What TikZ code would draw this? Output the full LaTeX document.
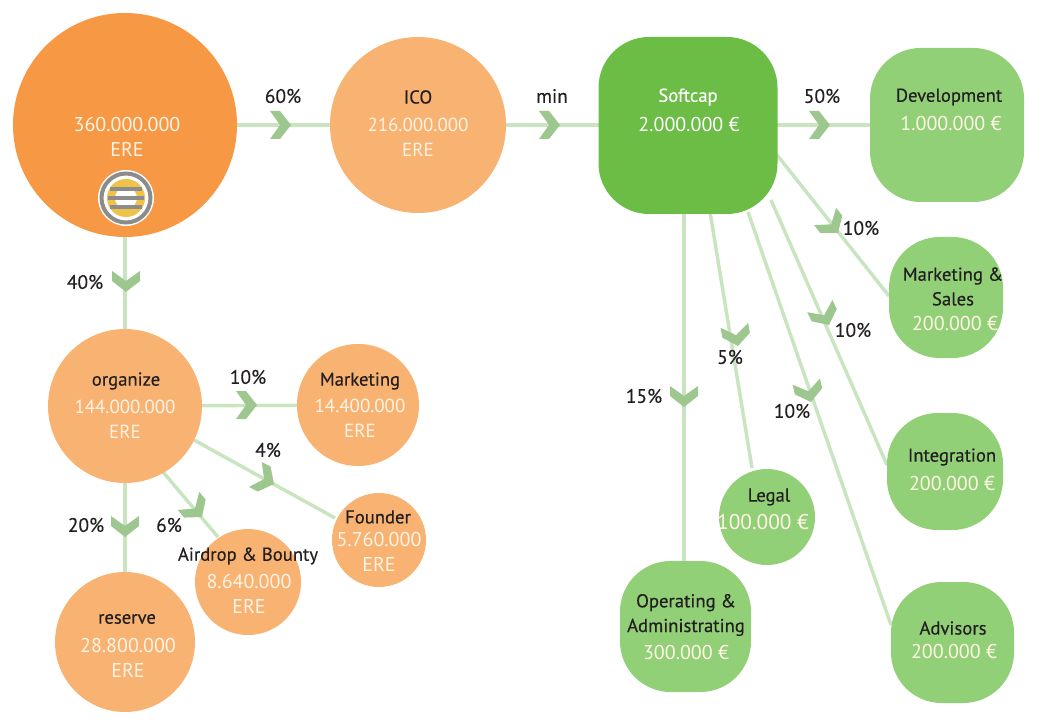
\documentclass[tikz,border=0pt]{standalone}
\usepackage{fontspec}
\setmainfont{PT Sans}
\newfontfamily\heavyf[FakeBold=0.35]{PT Sans}
\definecolor{mainor}{HTML}{F79845}
\definecolor{lightor}{HTML}{F8B271}
\definecolor{softg}{HTML}{6BBD45}
\definecolor{lightg}{HTML}{92D077}
\definecolor{linkg}{HTML}{C8E5C0}
\definecolor{chevg}{HTML}{9DC78F}
\definecolor{ink}{HTML}{231F20}
\definecolor{pale}{HTML}{FFF4E6}
\definecolor{logog}{HTML}{8C8C8C}
\definecolor{logoy}{HTML}{EFC24A}
\newcommand{\chev}[2]{\fill[chevg,shift={(#1)},rotate=-#2] (-21,-14) -- (-11,-14) -- (0,0) -- (-11,14) -- (-21,14) -- (-11,0) -- cycle;}
\tikzset{
  x=0.75pt,y=-0.75pt,
  every node/.style={font=\fontsize{15}{18.5}\selectfont,align=center,text=ink,inner sep=0pt},
  link/.style={draw=linkg,line width=2.6pt},
  disc/.style={circle,draw=none,minimum size=#1*0.75pt},
  orfill/.style={fill=lightor},
  pill/.style n args={2}{rectangle,rounded corners=38pt,fill=lightg,minimum width=#1*0.75pt,minimum height=#2*0.75pt},
  nm/.style={font=\heavyf\fontsize{14}{18.5}\selectfont,yshift=-0.75pt},
  pct/.style={font=\heavyf\fontsize{14.6}{18}\selectfont},
  num/.style={text=pale},
  numtight/.style={text=pale,font=\fontsize{14.2}{18.5}\selectfont},
  numwide/.style={text=pale,font=\fontsize{16}{18.5}\selectfont}
}
\begin{document}
\begin{tikzpicture}
\useasboundingbox (0,0) rectangle (1041,727);
\coordinate (mainC) at (125,125);
\coordinate (icoC) at (418,125);
\coordinate (softC) at (688,125);
\coordinate (devC) at (947,125);
\coordinate (orgC) at (125,406);
\coordinate (mktC) at (358,405);
\coordinate (fouC) at (379,540);
\coordinate (airC) at (248,582);
\coordinate (resC) at (125,642);
\coordinate (a1) at (777,155);
\coordinate (a2) at (889,296);
\coordinate (b1) at (771,200);
\coordinate (b2) at (887,465);
\coordinate (c1) at (748,212);
\coordinate (c2) at (891,625);
\coordinate (d1) at (710,212);
\coordinate (d2) at (752,468);
\coordinate (e1) at (684,214);
\coordinate (e2) at (684,561);
\coordinate (f1) at (194,440);
\coordinate (f2) at (335,518);
\coordinate (g1) at (163,472);
\coordinate (g2) at (218,537);
% connectors
\draw[link] (mainC) -- (icoC);
\draw[link] (icoC) -- (softC);
\draw[link] (softC) -- (devC);
\draw[link] (mainC) -- (orgC);
\draw[link] (orgC) -- (mktC);
\draw[link] (orgC) -- (resC);
\draw[link] (a1) -- (a2);
\draw[link] (b1) -- (b2);
\draw[link] (c1) -- (c2);
\draw[link] (d1) -- (d2);
\draw[link] (e1) -- (e2);
\draw[link] (f1) -- (f2);
\draw[link] (g1) -- (g2);
% chevrons
\chev{291,125}{0}
\chev{560,125}{0}
\chev{830,125}{0}
\chev{126,292}{90}
\chev{838,233}{52}
\chev{829,325}{64}
\chev{811,402}{77}
\chev{738,346}{80}
\chev{684,407}{90}
\chev{257,405}{0}
\chev{274,484}{27}
\chev{202,517}{50}
\chev{125,537}{90}
% shapes
\node[disc=224,fill=mainor] (main) at (mainC) {};
\node[disc=176,orfill] (ico) at (icoC) {};
\node[pill={179}{177},fill=softg] (soft) at (688,125.5) {};
\node[pill={154}{154}] (dev) at (devC) {};
\node[pill={114}{121}] (ms) at (946,297.5) {};
\node[pill={116}{117}] (int) at (945,471.5) {};
\node[pill={123}{121}] (adv) at (952.5,642.5) {};
\node[pill={131}{131}] (ops) at (685.5,626.5) {};
\node[disc=96,fill=lightg] (leg) at (767,517) {};
\node[disc=154,orfill] (org) at (orgC) {};
\node[disc=122,orfill] (mkt) at (mktC) {};
\node[disc=94,orfill] (fou) at (fouC) {};
\node[disc=106,orfill] (air) at (airC) {};
\node[disc=140,orfill] (res) at (resC) {};
% logo
\fill[white] (126,198) circle[radius=28];
\draw[logog,line width=3pt] (126,198) circle[radius=24.5];
\draw[logoy,line width=6pt] (126,198) circle[radius=15];
\fill[logog] (110,187) rectangle (142,191);
\fill[logog] (108,196) rectangle (144,200);
\fill[logog] (110,205) rectangle (142,209);
% node texts
\node[num] (t1) at (127,137) {360.000.000\\ERE};
\node[nm] (t2a) at (418,96) {ICO};
\node[numtight] (t2) at (418,137) {216.000.000\\ERE};
\node[nm,text=white] (t3a) at (688,96) {Softcap};
\node[text=white] (t3) at (689,125) {2.000.000 €};
\node[nm] (t4a) at (949,96) {Development};
\node[num] (t4) at (951,124) {1.000.000 €};
\node[nm] (t5a) at (953,285.5) {Marketing \&\\Sales};
\node[num] (t5) at (955,323) {200.000 €};
\node[nm] (t6a) at (952,456) {Integration};
\node[num] (t6) at (952,483) {200.000 €};
\node[nm] (t7a) at (953,627) {Advisors};
\node[num] (t7) at (954,651) {200.000 €};
\node[nm] (t8a) at (769,496) {Legal};
\node[numwide] (t8) at (763,522) {100.000 €};
\node[nm] (t9a) at (686,614) {Operating \&\\Administrating};
\node[num] (t9) at (686,652) {300.000 €};
\node[nm] (t10a) at (126,380) {organize};
\node[numtight] (t10) at (125,419) {144.000.000\\ERE};
\node[nm] (t11a) at (360,380) {Marketing};
\node[numtight] (t11) at (360,418) {14.400.000\\ERE};
\node[nm] (t12a) at (378,516) {Founder};
\node[num] (t12) at (379,552) {5.760.000\\ERE};
\node[nm] (t13a) at (248,555) {Airdrop \& Bounty};
\node[num] (t13) at (249,594) {8.640.000\\ERE};
\node[nm] (t14a) at (127,618) {reserve};
\node[num] (t14) at (128,658) {28.800.000\\ERE};
% percentages
\node[pct] (p1) at (283,96) {60\%};
\node[pct] (p2) at (552,96) {min};
\node[pct] (p3) at (822,96) {50\%};
\node[pct] (p4) at (85,282) {40\%};
\node[pct] (p5) at (861,228) {10\%};
\node[pct] (p6) at (853,330) {10\%};
\node[pct] (p7) at (792,411) {10\%};
\node[pct] (p8) at (730,357) {5\%};
\node[pct] (p9) at (644,396) {15\%};
\node[pct] (p10) at (248,377) {10\%};
\node[pct] (p11) at (268,450) {4\%};
\node[pct] (p12) at (169,525) {6\%};
\node[pct] (p13) at (86,525) {20\%};
\end{tikzpicture}
\end{document}
